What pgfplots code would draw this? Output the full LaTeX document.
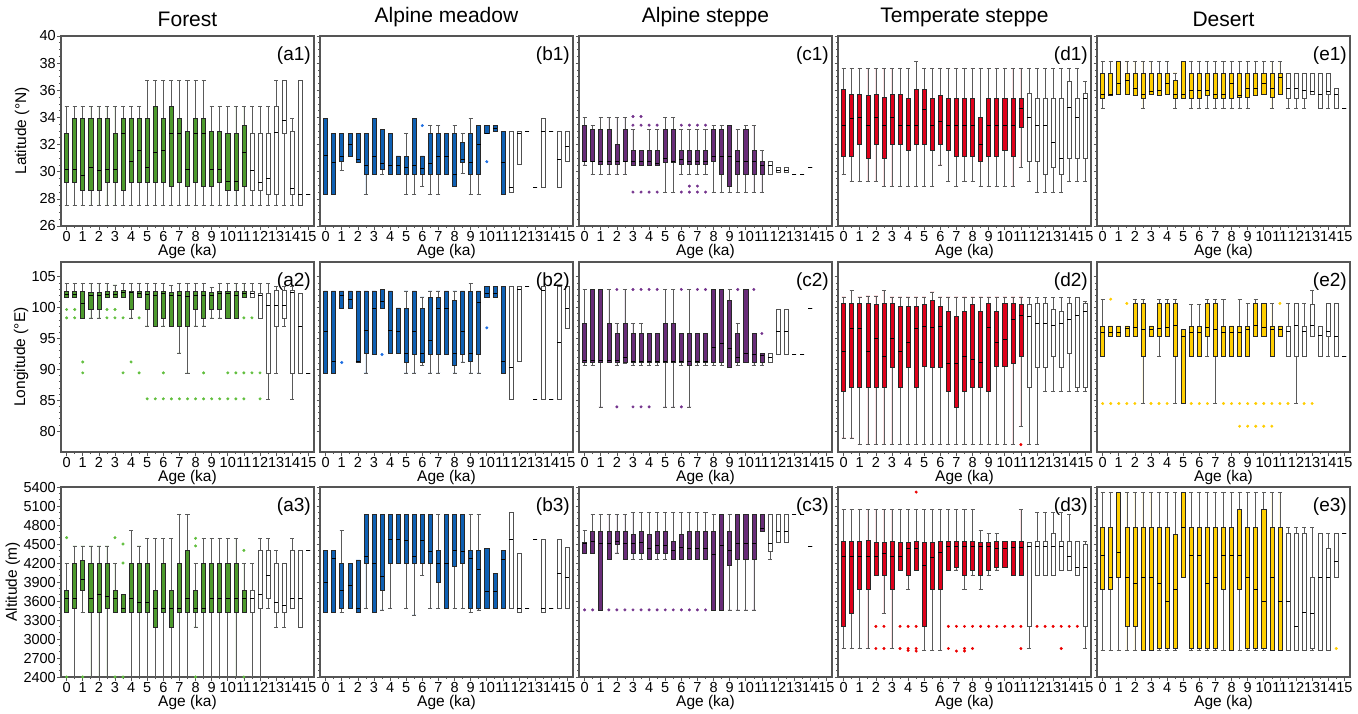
\documentclass[border=0pt]{standalone}
\usepackage{fontspec}
\setmainfont{Liberation Sans}
\usepackage{pgfplots}
\usepackage{pgfplotstable}
\pgfplotsset{compat=1.18}
\usepgfplotslibrary{statistics}

\definecolor{cgreen}{RGB}{76,153,44}
\definecolor{cblue}{RGB}{14,96,180}
\definecolor{cpurple}{RGB}{104,44,120}
\definecolor{cred}{RGB}{222,0,26}
\definecolor{cyellow}{RGB}{255,206,0}
\definecolor{dgreen}{RGB}{96,190,60}
\definecolor{dblue}{RGB}{30,110,225}
\definecolor{dpurple}{RGB}{115,50,140}
\definecolor{dred}{RGB}{235,0,0}
\definecolor{dyellow}{RGB}{255,205,0}
\definecolor{boxedge}{RGB}{40,40,40}
\definecolor{wbox}{RGB}{80,80,80}
\definecolor{whisk}{RGB}{90,90,90}
\definecolor{axcol}{RGB}{85,85,85}

% ---------------- data: p = age (ka), lw lq md uq uw ----------------
\pgfplotstableread{
p lw lq md uq uw
0 27.5 29.2 30.2 32.8 34.8
0.5 27.5 29.2 30.2 33.9 34.8
1 27.5 28.6 29.7 33.9 34.8
1.5 27.5 28.6 30.3 33.9 34.8
2 27.5 28.6 30.1 33.9 34.8
2.5 27.5 29.2 30.2 33.9 34.8
3 27.5 29.2 30.2 32.8 34.8
3.5 27.5 28.6 32.8 33.9 34.8
4 27.5 29.2 30.8 33.9 34.8
4.5 27.5 29.2 31.6 33.9 34.8
5 27.5 29.2 30.3 33.9 36.7
5.5 27.5 29.2 31.4 34.8 36.7
6 27.5 29.2 31.6 33.9 36.7
6.5 27.5 28.9 32.8 34.8 36.7
7 27.5 29.2 32.8 33.9 36.7
7.5 27.5 28.9 30.2 33.0 36.7
8 27.5 29.2 32.8 33.9 36.7
8.5 27.5 28.9 32.8 33.9 36.7
9 27.5 28.9 30.2 33.0 34.8
9.5 27.5 29.2 30.2 33.0 34.8
10 27.5 28.6 29.3 32.8 34.8
10.5 27.5 28.6 29.3 32.8 34.8
11 27.5 28.9 31.4 33.4 34.8
11.5 27.5 28.6 30.1 32.8 34.8
12 27.5 28.6 29.2 32.8 34.8
12.5 27.5 28.3 29.5 32.8 34.8
13 27.5 28.3 32.9 34.8 36.7
13.5 27.5 32.8 33.8 36.7 36.7
14 27.5 28.3 28.8 33.0 33.9
14.5 27.5 27.5 28.3 36.7 36.7
15 28.3 28.3 28.3 28.3 28.3
}\tAa
\pgfplotstableread{
p lw lq md uq uw
0 28.35 28.35 31.2 33.95 33.95
0.5 28.35 28.35 30.7 32.84 32.84
1 30.1 30.74 31.16 32.84 32.84
1.5 31.1 31.1 32.0 32.84 32.84
2 30.7 30.7 30.9 32.84 32.84
2.5 28.35 29.83 30.5 32.84 32.84
3 29.83 29.83 31.16 33.95 33.95
3.5 29.83 30.2 30.6 33.1 33.1
4 29.83 29.83 30.5 32.84 32.84
4.5 29.83 29.83 30.5 31.16 31.16
5 28.35 29.83 30.3 31.16 32.84
5.5 28.35 29.83 30.5 33.95 33.95
6 28.9 29.83 30.25 31.16 31.16
6.5 28.35 29.83 30.6 32.84 33.4
7 28.35 29.83 31.16 32.84 33.4
7.5 29.83 29.83 31.16 32.84 32.84
8 28.9 28.9 29.83 32.84 33.4
8.5 29.9 30.67 30.9 32.15 32.84
9 28.35 29.83 30.7 32.84 33.95
9.5 28.35 29.83 32.0 33.4 33.4
10 32.8 32.8 32.84 33.4 33.4
10.5 33.0 33.0 33.2 33.4 33.4
11 28.35 28.35 30.7 33.0 33.0
11.5 28.5 28.5 28.85 33.0 33.0
12 30.55 30.55 32.84 33.0 33.0
12.5 33.0 33.0 33.0 33.0 33.0
13 28.85 28.85 28.85 28.85 28.85
13.5 28.85 28.85 33.0 33.95 33.95
14 33.0 33.0 33.0 33.0 33.0
14.5 28.85 28.85 30.9 33.0 33.0
15 30.74 30.74 31.9 33.0 33.0
}\tBa
\pgfplotstableread{
p lw lq md uq uw
0 30.5 30.74 30.74 33.43 34.0
0.5 29.83 30.74 30.8 33.1 33.43
1 29.83 30.55 30.74 33.1 34.0
1.5 29.83 30.55 30.74 33.1 34.0
2 29.83 30.55 30.74 32.0 34.0
2.5 29.83 30.74 30.74 33.1 34.0
3 30.5 30.5 30.74 31.6 33.1
3.5 30.5 30.5 30.74 31.6 31.6
4 30.5 30.5 30.74 31.6 33.1
4.5 30.5 30.5 30.6 31.6 33.1
5 28.5 30.7 31.0 33.1 34.0
5.5 28.5 30.7 30.74 33.1 34.0
6 29.83 30.55 30.9 31.6 33.1
6.5 29.83 30.55 30.74 31.6 33.1
7 29.83 30.55 30.74 31.6 33.1
7.5 29.83 30.55 30.74 31.6 33.1
8 28.5 30.74 31.16 33.1 33.43
8.5 28.5 29.83 31.16 33.1 33.43
9 28.5 28.94 31.16 33.43 33.43
9.5 28.5 29.83 30.74 31.6 33.1
10 28.5 29.83 30.74 33.1 33.43
10.5 28.5 29.83 30.74 31.6 33.43
11 28.5 29.83 30.5 30.74 31.6
11.5 29.83 29.83 30.5 30.74 30.74
12 29.95 29.95 30.1 30.3 30.3
12.5 29.95 29.95 30.1 30.3 30.3
13 29.83 29.83 29.83 29.83 29.83
13.5 29.83 29.83 29.83 29.83 29.83
14 30.3 30.3 30.3 30.3 30.3
}\tCa
\pgfplotstableread{
p lw lq md uq uw
0 29.83 31.16 33.4 36.1 37.6
0.5 29.26 31.16 33.95 35.73 37.6
1 29.26 32.0 34.0 35.73 37.6
1.5 29.26 31.0 33.4 35.6 37.6
2 29.26 32.0 34.0 35.73 37.6
2.5 28.94 31.0 33.4 35.5 37.6
3 28.94 32.0 34.0 35.73 37.6
3.5 28.94 32.0 33.4 35.73 37.6
4 28.94 31.6 33.4 35.4 37.6
4.5 28.94 32.0 33.4 36.1 38.1
5 28.94 32.0 34.6 36.1 37.6
5.5 28.94 31.6 33.4 35.4 37.6
6 30.5 32.0 33.7 35.6 37.6
6.5 29.26 31.6 33.4 35.4 37.6
7 28.94 31.16 33.4 35.4 37.6
7.5 29.26 31.16 33.4 35.4 37.6
8 29.26 31.16 33.4 35.4 37.6
8.5 28.94 30.74 32.05 34.0 37.6
9 28.94 31.16 33.4 35.4 37.6
9.5 28.94 31.16 33.4 35.4 37.6
10 28.94 31.6 33.4 35.4 37.6
10.5 28.94 31.16 33.4 35.4 37.6
11 30.3 33.3 34.64 35.4 37.6
11.5 29.26 30.74 34.0 35.8 37.6
12 28.5 30.74 33.4 35.4 37.6
12.5 28.5 29.83 33.4 35.4 37.6
13 28.5 30.3 32.2 35.4 37.6
13.5 28.5 29.83 31.0 35.4 37.6
14 29.26 31.0 34.77 36.67 37.6
14.5 29.26 31.0 34.0 35.4 37.6
15 29.26 31.0 35.4 35.8 36.67
}\tDa
\pgfplotstableread{
p lw lq md uq uw
0 34.67 35.43 35.68 37.28 38.1
0.5 35.6 35.6 35.68 37.28 38.1
1 35.68 35.68 36.5 38.1 38.1
1.5 35.7 35.7 36.7 37.28 38.1
2 35.6 35.6 36.17 37.28 38.1
2.5 34.67 35.43 35.68 37.28 38.1
3 35.68 35.68 35.9 37.28 38.1
3.5 35.6 35.6 35.97 37.28 38.1
4 35.7 35.7 36.5 37.28 38.1
4.5 34.67 35.43 35.7 36.7 37.28
5 35.43 35.43 35.68 38.1 38.1
5.5 34.67 35.43 35.97 37.28 38.1
6 34.67 35.43 35.97 37.28 38.1
6.5 34.67 35.6 35.97 37.28 38.1
7 34.67 35.43 35.68 37.28 38.1
7.5 34.67 35.43 35.68 37.28 38.1
8 34.67 35.43 36.5 37.28 38.1
8.5 34.67 35.5 35.6 37.28 38.1
9 34.67 35.5 36.17 37.28 38.1
9.5 35.6 35.6 36.17 37.28 38.1
10 35.68 35.68 36.5 37.28 38.1
10.5 34.67 35.5 36.17 37.28 38.1
11 35.7 35.7 36.96 37.28 38.1
11.5 34.67 35.43 36.17 37.28 37.28
12 34.67 35.43 36.17 37.28 37.28
12.5 34.67 35.43 35.97 37.28 37.28
13 35.7 35.7 35.9 37.28 37.28
13.5 34.67 34.67 35.68 37.28 37.28
14 34.67 35.68 35.9 37.28 37.28
14.5 34.67 34.67 35.68 36.17 36.17
15 34.67 34.67 34.67 34.67 34.67
}\tEa
% row 2
\pgfplotstableread{
p lw lq md uq uw
0 101.6 101.6 102.14 102.73 103.92
0.5 101.6 101.6 102.14 102.73 103.92
1 98.35 98.35 100.7 102.73 103.92
1.5 98.35 99.7 102.0 102.57 103.92
2 98.35 99.7 102.0 102.57 103.92
2.5 101.6 101.6 102.14 102.73 103.92
3 101.6 101.6 102.14 102.73 103.7
3.5 101.6 101.6 102.57 102.84 103.92
4 98.35 99.7 102.57 102.73 103.92
4.5 101.6 101.6 102.3 102.73 103.92
5 97.05 99.7 102.14 102.73 103.92
5.5 97.05 97.05 102.0 102.73 103.92
6 97.05 98.35 102.3 102.73 103.92
6.5 97.05 97.05 102.0 102.57 103.6
7 92.68 97.05 102.0 102.73 103.92
7.5 89.43 97.05 101.8 102.73 103.92
8 97.05 99.7 102.0 102.73 103.92
8.5 97.05 98.35 102.0 102.73 103.92
9 98.35 99.7 102.0 102.57 103.3
9.5 98.35 99.7 102.3 102.73 103.92
10 98.35 98.35 102.3 102.73 103.92
10.5 98.35 98.35 102.0 102.73 103.92
11 101.6 101.6 102.3 102.73 103.92
11.5 101.6 101.6 102.3 102.73 103.92
12 98.35 98.35 102.03 102.3 103.92
12.5 85.22 89.43 100.4 102.3 103.92
13 89.43 97.05 100.4 102.84 103.4
13.5 97.05 98.35 100.4 102.84 103.4
14 85.22 89.43 102.57 102.84 103.4
14.5 89.43 89.43 97.05 102.3 102.3
15 89.43 89.43 89.43 89.43 89.43
}\tAb
\pgfplotstableread{
p lw lq md uq uw
0 89.43 89.43 96.19 102.73 102.73
0.5 89.43 89.43 91.32 102.73 102.73
1 99.97 99.97 102.03 102.73 102.73
1.5 99.97 99.97 101.38 102.73 102.73
2 91.2 91.2 91.32 102.73 102.73
2.5 89.43 92.57 96.35 102.73 102.73
3 92.41 92.41 99.97 102.73 102.73
3.5 99.97 99.97 101.05 102.95 102.95
4 92.57 92.57 96.35 102.73 102.73
4.5 92.57 92.57 96.19 99.97 99.97
5 89.43 91.11 92.57 99.97 102.73
5.5 89.43 92.41 96.19 102.73 102.73
6 90.68 91.11 92.57 99.97 101.76
6.5 89.43 92.41 94.73 101.76 102.73
7 89.43 92.41 99.97 101.76 102.73
7.5 92.41 92.41 99.97 102.73 102.73
8 89.43 90.68 92.57 101.2 102.73
8.5 91.2 92.41 96.19 102.73 102.73
9 89.43 91.32 92.57 102.73 103.92
9.5 89.43 92.41 100.84 102.73 102.73
10 101.76 101.76 102.3 103.4 103.4
10.5 101.76 101.76 102.4 103.4 103.4
11 89.43 89.43 91.32 103.4 103.4
11.5 85.22 85.22 90.41 103.4 103.4
12 91.32 91.32 102.95 103.4 103.4
12.5 103.4 103.4 103.4 103.4 103.4
13 85.22 85.22 85.22 85.22 85.22
13.5 85.22 85.22 102.84 103.4 103.4
14 85.22 85.22 85.22 85.22 85.22
14.5 85.22 85.22 94.35 103.4 103.4
15 96.73 96.73 99.97 103.4 103.4
}\tBb
\pgfplotstableread{
p lw lq md uq uw
0 90.68 91.2 91.54 97.43 102.95
0.5 90.68 91.2 91.54 102.95 102.95
1 83.92 91.2 91.54 102.95 102.95
1.5 91.2 91.2 91.54 97.43 102.95
2 90.68 91.2 91.54 95.81 97.43
2.5 90.95 91.2 92.03 97.43 102.95
3 90.68 91.2 91.3 95.81 97.43
3.5 90.68 91.2 91.3 95.81 97.43
4 90.68 91.2 91.3 95.81 95.81
4.5 90.68 91.2 91.3 95.81 95.81
5 83.92 91.2 91.3 97.43 102.95
5.5 83.92 91.2 91.3 97.43 102.95
6 90.68 91.2 91.3 95.81 95.81
6.5 83.92 90.68 91.32 95.81 102.95
7 90.68 91.2 91.3 95.81 95.81
7.5 90.68 91.2 91.3 95.81 95.81
8 90.68 91.2 93.65 102.95 102.95
8.5 90.68 91.2 94.19 102.95 102.95
9 90.41 90.41 93.49 101.2 102.95
9.5 90.68 91.2 92.03 95.81 97.43
10 91.2 91.2 92.57 102.95 102.95
10.5 90.68 91.2 92.4 95.81 95.81
11 90.68 91.2 92.2 92.57 92.57
11.5 91.2 91.2 92.0 92.57 92.57
12 92.41 92.41 96.19 99.7 99.7
12.5 92.41 92.41 96.19 99.7 99.7
13 92.41 92.41 92.41 92.41 92.41
13.5 92.41 92.41 92.41 92.41 92.41
14 99.86 99.86 99.86 99.86 99.86
}\tCb
\pgfplotstableread{
p lw lq md uq uw
0 78.89 86.51 93.0 100.68 101.76
0.5 78.89 87.16 96.73 100.68 102.84
1 77.8 87.16 96.73 100.68 101.76
1.5 77.8 87.16 93.0 100.68 101.9
2 77.8 87.16 95.0 100.57 101.9
2.5 77.8 87.16 92.13 100.68 102.84
3 77.8 90.3 95.0 100.68 101.76
3.5 77.8 87.16 93.0 100.3 101.76
4 77.8 90.3 94.46 100.3 101.76
4.5 77.8 87.16 96.62 100.3 101.76
5 77.8 90.57 97.05 100.57 101.76
5.5 77.8 90.3 96.78 101.2 102.57
6 77.8 90.3 97.0 100.3 101.76
6.5 77.8 86.51 91.05 99.49 101.76
7 77.8 83.92 90.95 98.68 101.76
7.5 77.8 86.51 92.13 99.49 101.76
8 77.8 87.16 91.59 100.57 101.76
8.5 77.8 87.16 91.2 99.49 101.76
9 77.8 86.51 96.78 100.68 101.76
9.5 77.8 90.57 94.46 99.49 101.76
10 77.8 90.57 94.84 100.68 101.76
10.5 77.8 90.95 98.08 100.68 101.76
11 80.78 92.13 98.8 100.57 101.76
11.5 77.8 87.16 98.68 100.57 101.76
12 77.8 90.41 97.43 100.68 101.76
12.5 86.51 90.41 97.43 100.68 101.76
13 86.51 92.13 97.16 99.7 101.76
13.5 86.51 90.41 97.43 99.49 101.76
14 86.51 92.68 98.08 100.68 101.76
14.5 86.51 87.16 98.8 101.76 101.76
15 86.51 87.16 99.49 100.68 101.0
}\tDb
\pgfplotstableread{
p lw lq md uq uw
0 92.13 92.13 95.97 97.05 101.38
0.5 95.38 95.38 95.97 97.05 97.05
1 95.38 95.38 95.97 97.05 97.05
1.5 95.38 95.38 96.73 97.05 97.05
2 95.38 95.38 96.78 100.68 101.38
2.5 84.46 92.13 96.51 100.68 101.38
3 95.38 95.38 96.51 97.05 97.05
3.5 92.13 95.38 96.73 100.68 101.38
4 95.38 95.38 96.78 100.68 101.38
4.5 84.46 92.13 97.16 100.68 101.38
5 84.46 84.46 95.38 96.46 96.46
5.5 92.13 92.13 95.97 97.05 100.57
6 92.13 92.13 95.97 97.05 100.57
6.5 92.13 95.38 96.78 100.68 101.38
7 84.46 92.13 96.51 100.68 101.38
7.5 92.13 92.13 95.97 97.05 101.38
8 92.13 92.13 95.97 97.05 97.05
8.5 92.13 92.13 95.97 97.05 101.38
9 92.13 92.13 96.51 97.05 100.68
9.5 95.38 95.38 97.16 100.68 101.38
10 95.38 95.38 96.78 100.68 100.68
10.5 92.13 92.13 96.51 97.05 100.68
11 95.38 95.38 96.46 97.05 97.05
11.5 92.13 92.13 96.19 97.05 100.68
12 84.46 92.13 97.16 100.68 100.68
12.5 92.13 92.13 96.19 97.05 100.68
13 95.38 95.38 97.16 100.57 102.84
13.5 92.13 92.13 95.54 97.05 97.05
14 92.13 95.38 96.19 100.68 100.68
14.5 92.13 92.13 95.38 100.68 100.68
15 92.13 92.13 92.13 92.13 92.13
}\tEb
% row 3 (altitude in km; axis labelled in m)
\pgfplotstableread{
p lw lq md uq uw
0 3.42 3.42 3.65 3.77 4.20
0.5 2.40 3.48 3.65 4.20 4.47
1 3.42 3.77 3.95 4.25 4.47
1.5 2.40 3.42 3.65 4.20 4.47
2 2.40 3.42 3.70 4.20 4.47
2.5 2.40 3.48 3.67 4.20 4.47
3 3.42 3.42 3.65 3.77 4.20
3.5 3.42 3.42 3.48 3.70 3.70
4 2.40 3.42 3.65 4.20 4.71
4.5 2.40 3.42 3.58 4.20 4.47
5 2.40 3.42 3.58 4.20 4.59
5.5 2.40 3.19 3.48 3.77 4.59
6 2.40 3.42 3.48 4.20 4.59
6.5 2.40 3.19 3.48 3.77 4.59
7 2.40 3.42 3.48 4.20 4.97
7.5 2.40 3.42 3.65 4.40 4.97
8 3.19 3.42 3.48 3.77 4.20
8.5 2.40 3.42 3.48 4.20 4.59
9 2.40 3.42 3.65 4.20 4.59
9.5 2.40 3.42 3.65 4.20 4.59
10 2.40 3.42 3.65 4.20 4.59
10.5 2.40 3.42 3.65 4.20 4.59
11 3.42 3.42 3.65 3.77 4.20
11.5 2.40 3.42 3.65 3.77 4.20
12 2.40 3.48 3.70 4.40 4.59
12.5 3.48 3.65 4.00 4.40 4.59
13 3.19 3.42 3.58 4.20 4.40
13.5 3.19 3.42 3.54 4.20 4.20
14 3.48 3.48 3.65 4.40 4.59
14.5 3.19 3.19 3.65 4.40 4.40
15 4.40 4.40 4.40 4.40 4.40
}\tAc
\pgfplotstableread{
p lw lq md uq uw
0 3.42 3.42 3.90 4.40 4.40
0.5 3.42 3.42 4.27 4.40 4.40
1 3.42 3.48 3.77 4.20 4.71
1.5 3.48 3.48 3.85 4.20 4.20
2 3.42 3.42 3.48 4.25 4.25
2.5 3.48 4.20 4.30 4.97 4.97
3 3.42 3.42 4.20 4.97 4.97
3.5 3.46 3.77 3.99 4.97 4.97
4 3.48 4.20 4.58 4.97 4.97
4.5 4.20 4.20 4.58 4.97 4.97
5 3.48 4.20 4.56 4.97 4.97
5.5 3.38 4.20 4.30 4.97 4.97
6 4.01 4.20 4.56 4.97 4.97
6.5 3.48 4.20 4.38 4.97 4.97
7 3.48 3.90 4.20 4.40 4.97
7.5 3.48 3.48 4.20 4.97 4.97
8 3.48 4.15 4.40 4.97 4.97
8.5 3.48 4.20 4.38 4.97 4.97
9 3.42 3.48 4.27 4.40 4.97
9.5 3.46 3.48 4.10 4.40 4.97
10 3.48 3.48 3.76 4.43 4.43
10.5 3.48 3.48 3.76 4.03 4.03
11 3.48 3.48 4.26 4.40 4.40
11.5 3.48 3.48 4.58 5.00 5.00
12 3.42 3.42 3.48 4.35 4.35
12.5 3.48 3.48 3.48 3.48 3.48
13 4.58 4.58 4.58 4.58 4.58
13.5 3.42 3.42 3.48 4.58 4.58
14 3.48 3.48 3.48 3.48 3.48
14.5 3.48 3.48 4.04 4.58 4.58
15 3.48 3.48 3.97 4.45 4.45
}\tBc
\pgfplotstableread{
p lw lq md uq uw
0 4.36 4.36 4.51 4.525 4.71
0.5 4.36 4.36 4.55 4.70 4.97
1 3.46 3.46 4.51 4.70 4.97
1.5 4.26 4.26 4.51 4.70 4.97
2 4.36 4.50 4.55 4.70 4.97
2.5 4.26 4.26 4.51 4.70 4.97
3 4.26 4.36 4.51 4.66 5.00
3.5 4.26 4.36 4.53 4.70 5.00
4 4.26 4.26 4.43 4.66 5.00
4.5 4.26 4.36 4.48 4.70 5.00
5 4.26 4.36 4.48 4.70 5.00
5.5 4.26 4.26 4.40 4.55 5.00
6 4.26 4.26 4.45 4.66 5.00
6.5 4.26 4.26 4.43 4.70 5.00
7 4.26 4.26 4.43 4.70 5.00
7.5 4.26 4.26 4.43 4.70 5.00
8 3.46 3.46 4.33 4.70 4.97
8.5 3.46 3.46 4.48 4.97 4.97
9 3.46 4.16 4.40 4.70 4.97
9.5 3.46 4.26 4.51 4.97 4.97
10 3.46 4.26 4.51 4.97 4.97
10.5 3.46 4.26 4.51 4.97 4.97
11 4.70 4.70 4.75 4.97 4.97
11.5 4.26 4.38 4.51 4.97 4.97
12 4.53 4.53 4.70 4.97 4.97
12.5 4.53 4.53 4.70 4.97 4.97
13 4.97 4.97 4.97 4.97 4.97
13.5 4.97 4.97 4.97 4.97 4.97
14 4.47 4.47 4.47 4.47 4.47
}\tCc
\pgfplotstableread{
p lw lq md uq uw
0 2.85 3.20 4.30 4.55 5.05
0.5 2.85 3.40 4.30 4.54 5.05
1 2.85 3.78 4.30 4.54 5.05
1.5 2.85 3.78 4.30 4.56 5.05
2 4.01 4.01 4.30 4.53 5.05
2.5 3.40 4.01 4.35 4.53 5.05
3 2.85 3.78 4.30 4.54 5.05
3.5 4.08 4.08 4.30 4.53 5.05
4 3.78 4.01 4.43 4.53 5.05
4.5 4.09 4.09 4.43 4.55 5.05
5 2.82 3.20 4.16 4.53 5.05
5.5 2.82 3.78 4.29 4.53 5.05
6 2.82 3.78 4.37 4.54 5.05
6.5 4.09 4.09 4.47 4.55 5.05
7 4.09 4.14 4.47 4.55 5.05
7.5 3.78 4.01 4.46 4.54 5.05
8 4.01 4.09 4.46 4.55 5.05
8.5 3.78 4.01 4.46 4.53 4.71
9 4.01 4.09 4.46 4.53 4.67
9.5 4.09 4.14 4.43 4.54 4.67
10 4.14 4.14 4.43 4.54 4.54
10.5 4.01 4.01 4.45 4.54 4.54
11 4.01 4.01 4.45 4.54 5.05
11.5 2.85 3.20 4.46 4.53 4.53
12 4.01 4.01 4.46 4.55 5.00
12.5 4.01 4.01 4.46 4.55 5.00
13 4.01 4.01 4.47 4.67 5.00
13.5 4.09 4.09 4.46 4.55 5.00
14 4.09 4.09 4.30 4.55 4.97
14.5 4.01 4.01 4.14 4.55 4.55
15 2.85 3.20 4.14 4.49 4.55
}\tDc
\pgfplotstableread{
p lw lq md uq uw
0 2.82 3.78 4.32 4.76 5.32
0.5 2.82 3.78 3.97 4.76 5.32
1 2.82 3.97 4.37 5.32 5.32
1.5 2.82 3.20 3.97 4.76 5.32
2 2.82 3.20 3.88 4.76 5.32
2.5 2.82 2.82 3.97 4.76 5.32
3 2.82 2.82 3.97 4.76 5.32
3.5 2.82 2.85 3.88 4.76 5.32
4 2.82 2.85 3.59 4.76 5.32
4.5 2.82 2.85 3.78 4.66 5.32
5 3.97 3.97 4.76 5.32 5.32
5.5 2.82 2.85 4.32 4.76 5.32
6 2.82 2.85 4.32 4.76 5.32
6.5 2.82 2.85 3.88 4.76 5.32
7 2.82 2.85 3.97 4.76 5.32
7.5 2.82 3.78 4.32 4.76 5.32
8 2.82 2.82 4.32 4.76 5.32
8.5 2.82 3.78 4.32 5.05 5.32
9 2.82 2.85 3.97 4.76 5.32
9.5 2.82 2.85 3.78 4.76 5.32
10 2.82 2.85 3.59 5.05 5.32
10.5 2.82 2.82 3.97 4.76 5.32
11 2.82 2.82 3.59 4.76 5.32
11.5 2.82 2.82 3.59 4.67 4.76
12 2.82 2.82 3.20 4.67 4.76
12.5 2.82 2.82 3.42 4.67 4.76
13 2.82 2.85 3.40 3.97 4.76
13.5 2.82 2.82 3.97 4.67 4.67
14 2.82 2.82 3.97 4.44 4.67
14.5 3.97 3.97 4.22 4.67 4.67
15 4.67 4.67 4.67 4.67 4.67
}\tEc

% ---------------- outliers ----------------
\pgfplotstableread{
x y
6 33.4
10 30.74
}\oBa
\pgfplotstableread{
x y
3 34.07
3.5 34.07
3 33.43
3.5 33.43
4 33.43
4.5 33.43
6 33.43
6.5 33.43
7 33.43
7.5 33.43
3 28.5
3.5 28.5
4 28.5
4.5 28.5
6 28.5
6.5 28.5
7 28.5
7.5 28.5
6.5 28.94
7 28.94
}\oCa
\pgfplotstableread{
x y
0 99.7
0 98.35
0.5 99.7
0.5 98.35
1 91.2
1 89.43
2.5 99.7
2.5 98.35
3 99.7
3 98.35
3.5 98.35
3.5 89.43
4 91.2
4.5 98.35
4.5 89.43
5 85.22
5.5 85.22
6 89.43
6 85.22
6.5 85.22
7 85.22
7.5 85.22
8 85.22
8.5 89.43
8.5 85.22
9 85.22
9.5 85.22
10 89.43
10 85.22
10.5 89.43
10.5 85.22
11 98.35
11 89.43
11 85.22
11.5 98.35
11.5 89.43
12 89.43
12 85.22
}\oAb
\pgfplotstableread{
x y
1 91.11
3.5 92.41
10 96.73
}\oBb
\pgfplotstableread{
x y
2 102.95
2 83.92
3 102.95
3 83.92
3.5 102.95
3.5 83.92
4 102.95
4 83.92
4.5 102.95
6 102.95
6 83.92
7 102.95
7.5 102.95
9.5 102.95
10.5 102.95
11 95.81
}\oCb
\pgfplotstableread{
x y
11 77.8
}\oDb
\pgfplotstableread{
x y
0 84.46
0.5 101.38
0.5 84.46
1 84.46
1.5 100.68
1.5 84.46
2 84.46
3 84.46
3.5 84.46
4 84.46
5.5 84.46
6 84.46
6.5 84.46
7.5 84.46
8 84.46
8.5 84.46
8.5 80.78
9 84.46
9 80.78
9.5 84.46
9.5 80.78
10 84.46
10 80.78
10.5 84.46
10.5 80.78
11 100.68
11 84.46
11.5 84.46
12.5 84.46
13 84.46
}\oEb
\pgfplotstableread{
x y
0 4.60
0 2.40
1 2.40
3 4.60
3 2.40
3.5 4.50
3.5 4.20
3.5 2.40
8 4.59
8 4.47
8 2.40
11 4.40
11 2.40
}\oAc
\pgfplotstableread{
x y
0 3.46
0.5 3.46
1.5 3.46
2 3.46
2.5 3.46
3 3.46
3.5 3.46
4 3.46
4.5 3.46
5 3.46
5.5 3.46
6 3.46
6.5 3.46
7 3.46
7.5 3.46
}\oCc
\pgfplotstableread{
x y
2 3.20
2.5 3.20
3.5 3.20
4 3.20
4.5 3.20
6.5 3.20
7 3.20
7.5 3.20
8 3.20
8.5 3.20
9 3.20
9.5 3.20
10 3.20
10.5 3.20
11 3.20
12 3.20
12.5 3.20
13 3.20
13.5 3.20
14 3.20
14.5 3.20
2 2.85
2.5 2.85
3.5 2.85
4 2.85
4 2.82
4.5 2.85
4.5 2.81
6.5 2.85
7 2.81
7.5 2.85
7.5 2.81
8 2.85
11 2.85
13.5 2.85
4.5 5.32
}\oDc
\pgfplotstableread{
x y
14.5 2.85
}\oEc

% ---------------- drawing helpers ----------------
\newcommand{\drawboxes}[2]{%
  \pgfplotstablegetrowsof{#1}%
  \pgfmathtruncatemacro{\nlast}{\pgfplotsretval-1}%
  \pgfplotsforeachungrouped \ii in {0,...,\nlast}{%
    \pgfplotstablegetelem{\ii}{p}\of{#1}\let\vp\pgfplotsretval
    \pgfplotstablegetelem{\ii}{lw}\of{#1}\let\vlw\pgfplotsretval
    \pgfplotstablegetelem{\ii}{lq}\of{#1}\let\vlq\pgfplotsretval
    \pgfplotstablegetelem{\ii}{md}\of{#1}\let\vmd\pgfplotsretval
    \pgfplotstablegetelem{\ii}{uq}\of{#1}\let\vuq\pgfplotsretval
    \pgfplotstablegetelem{\ii}{uw}\of{#1}\let\vuw\pgfplotsretval
    \ifdim\vp pt>11.2pt \def\vcol{white}\def\vdraw{wbox}\else\def\vcol{#2}\def\vdraw{boxedge}\fi
    \edef\doplot{\noexpand\addplot[draw=\vdraw, fill=\vcol, line width=0.6pt,
      boxplot prepared={draw direction=y, draw position=\vp, lower whisker=\vlw, lower quartile=\vlq,
      median=\vmd, upper quartile=\vuq, upper whisker=\vuw}] coordinates {};}%
    \doplot
  }%
}
\newcommand{\outl}[2]{%
  \addplot[only marks, mark=*, color=#2, mark size=1.3pt] table[x=x, y=y] {#1};
}
\newcommand{\ptag}[1]{\node[anchor=north east, inner sep=0pt, font=\fontsize{19}{20}\selectfont] at (rel axis cs:0.988,0.942) {#1};}

\pgfplotsset{
  panel/.style={
    scale only axis, width=253pt, height=190pt,
    xmin=-0.35, xmax=15.35,
    xtick={0,...,15}, minor xtick={0.5,1.5,...,14.5},
    tick pos=left, tick align=outside,
    major tick length=3.5pt, minor tick length=2pt,
    axis line style={draw=axcol, line width=1.2pt},
    every tick/.style={draw=axcol, line width=0.7pt},
    tick label style={font=\fontsize{14.5}{15}\selectfont},
    xticklabel style={inner sep=1.5pt},
    yticklabel style={inner sep=1.5pt},
    label style={font=\fontsize{15.5}{17}\selectfont},
    xlabel={Age (ka)},
    xlabel style={inner sep=1pt},
    /pgf/number format/assume math mode=true,
    boxplot/draw direction=y,
    boxplot/box extend=0.25,
    boxplot/whisker extend=0.25,
    boxplot/every whisker/.style={draw=whisk},
    boxplot/every median/.style={draw=black},
    title style={font=\fontsize{21}{24}\selectfont},
    clip=true,
  },
  r1/.style={ymin=26, ymax=40, ytick={26,28,...,40}, minor y tick num=3},
  r2/.style={ymin=76.6, ymax=107.4, ytick={80,85,...,105}, minor y tick num=4},
  r3/.style={ymin=2.4, ymax=5.4, ytick={2.4,2.7,3.0,3.3,3.6,3.9,4.2,4.5,4.8,5.1,5.4},
             yticklabels={2400,2700,3000,3300,3600,3900,4200,4500,4800,5100,5400},
             minor y tick num=2},
  noy/.style={yticklabels={}},
}

\begin{document}
\begin{tikzpicture}
\useasboundingbox (0pt,0pt) rectangle (1358pt,-713pt);
% ===== row 1 =====
\begin{axis}[panel, r1, at={(61pt,-36pt)}, anchor=north west, title={Forest},
  ylabel={Latitude (°N)}, ylabel style={at={(axis description cs:-0.154,0.5)}, anchor=center}]
\drawboxes{\tAa}{cgreen}
\ptag{(a1)}
\end{axis}
\begin{axis}[panel, r1, noy, at={(320pt,-36pt)}, anchor=north west, title={Alpine meadow}]
\drawboxes{\tBa}{cblue}
\outl{\oBa}{dblue}
\ptag{(b1)}
\end{axis}
\begin{axis}[panel, r1, noy, at={(579pt,-36pt)}, anchor=north west, title={Alpine steppe}]
\drawboxes{\tCa}{cpurple}
\outl{\oCa}{dpurple}
\ptag{(c1)}
\end{axis}
\begin{axis}[panel, r1, noy, at={(838pt,-36pt)}, anchor=north west, title={Temperate steppe}]
\drawboxes{\tDa}{cred}
\ptag{(d1)}
\end{axis}
\begin{axis}[panel, r1, noy, at={(1097pt,-36pt)}, anchor=north west, title={Desert}]
\drawboxes{\tEa}{cyellow}
\ptag{(e1)}
\end{axis}
% ===== row 2 =====
\begin{axis}[panel, r2, at={(61pt,-262pt)}, anchor=north west,
  ylabel={Longitude (°E)}, ylabel style={at={(axis description cs:-0.158,0.5)}, anchor=center}]
\drawboxes{\tAb}{cgreen}
\outl{\oAb}{dgreen}
\ptag{(a2)}
\end{axis}
\begin{axis}[panel, r2, noy, at={(320pt,-262pt)}, anchor=north west]
\drawboxes{\tBb}{cblue}
\outl{\oBb}{dblue}
\ptag{(b2)}
\end{axis}
\begin{axis}[panel, r2, noy, at={(579pt,-262pt)}, anchor=north west]
\drawboxes{\tCb}{cpurple}
\outl{\oCb}{dpurple}
\ptag{(c2)}
\end{axis}
\begin{axis}[panel, r2, noy, at={(838pt,-262pt)}, anchor=north west]
\drawboxes{\tDb}{cred}
\outl{\oDb}{dred}
\ptag{(d2)}
\end{axis}
\begin{axis}[panel, r2, noy, at={(1097pt,-262pt)}, anchor=north west]
\drawboxes{\tEb}{cyellow}
\outl{\oEb}{dyellow}
\ptag{(e2)}
\end{axis}
% ===== row 3 =====
\begin{axis}[panel, r3, at={(61pt,-487pt)}, anchor=north west,
  ylabel={Altitude (m)}, ylabel style={at={(axis description cs:-0.19,0.5)}, anchor=center}]
\drawboxes{\tAc}{cgreen}
\outl{\oAc}{dgreen}
\ptag{(a3)}
\end{axis}
\begin{axis}[panel, r3, noy, at={(320pt,-487pt)}, anchor=north west]
\drawboxes{\tBc}{cblue}
\ptag{(b3)}
\end{axis}
\begin{axis}[panel, r3, noy, at={(579pt,-487pt)}, anchor=north west]
\drawboxes{\tCc}{cpurple}
\outl{\oCc}{dpurple}
\ptag{(c3)}
\end{axis}
\begin{axis}[panel, r3, noy, at={(838pt,-487pt)}, anchor=north west]
\drawboxes{\tDc}{cred}
\outl{\oDc}{dred}
\ptag{(d3)}
\end{axis}
\begin{axis}[panel, r3, noy, at={(1097pt,-487pt)}, anchor=north west]
\drawboxes{\tEc}{cyellow}
\outl{\oEc}{dyellow}
\ptag{(e3)}
\end{axis}
\end{tikzpicture}
\end{document}
